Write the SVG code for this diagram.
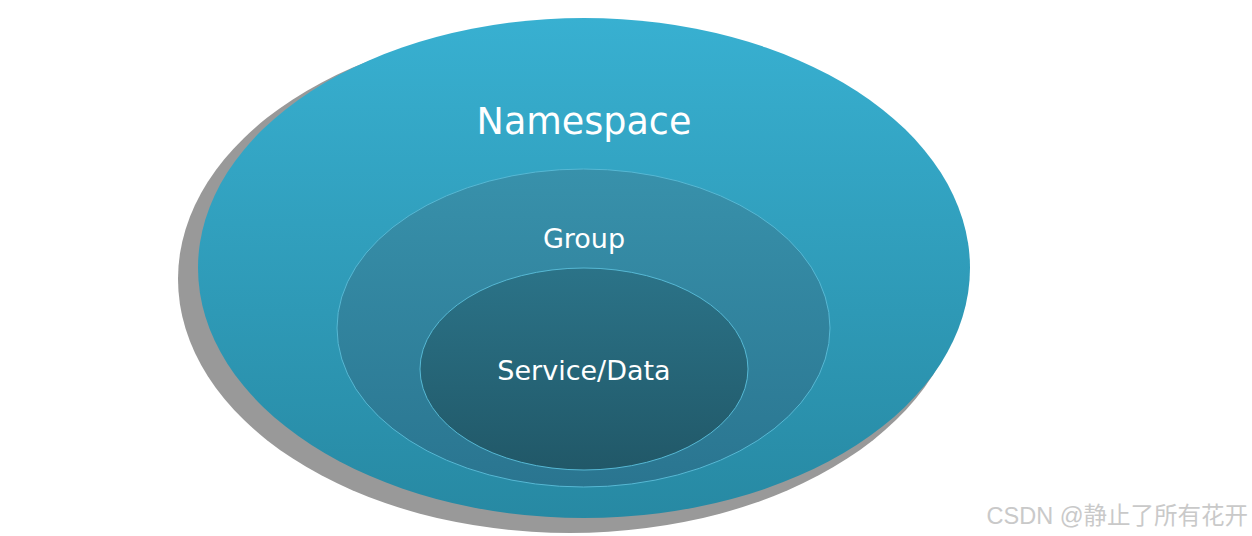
<svg xmlns="http://www.w3.org/2000/svg" width="1252" height="536" viewBox="0 0 1252 536">
  <defs>
    <linearGradient id="gOuter" x1="0" y1="0" x2="0" y2="1">
      <stop offset="0" stop-color="#38B0D1"/>
      <stop offset="1" stop-color="#2789A3"/>
    </linearGradient>
    <linearGradient id="gGroup" x1="0" y1="0" x2="0" y2="1">
      <stop offset="0" stop-color="#3891AB"/>
      <stop offset="1" stop-color="#2A7590"/>
    </linearGradient>
    <linearGradient id="gInner" x1="0" y1="0" x2="0" y2="1">
      <stop offset="0" stop-color="#2B7388"/>
      <stop offset="1" stop-color="#215868"/>
    </linearGradient>
  </defs>
  <style>
    .lbl { fill: #ffffff; font-family: "DejaVu Sans", Verdana, sans-serif; text-anchor: middle; }
    .ring { stroke: #56B8D4; stroke-width: 1; }
  </style>
  <rect width="1252" height="536" fill="#ffffff"/>
  <g id="namespace">
    <ellipse cx="570" cy="279" rx="392" ry="254" fill="#999999"/>
    <ellipse cx="584" cy="268" rx="386" ry="250" fill="url(#gOuter)"/>
    <text class="lbl" x="584" y="134" font-size="36.5">Namespace</text>
  </g>
  <g id="group">
    <ellipse class="ring" cx="583.5" cy="328" rx="246.5" ry="159" fill="url(#gGroup)"/>
    <text class="lbl" x="584" y="248" font-size="27">Group</text>
  </g>
  <g id="service">
    <ellipse class="ring" cx="584" cy="369" rx="164" ry="101" fill="url(#gInner)"/>
    <text class="lbl" x="584" y="380" font-size="27">Service/Data</text>
  </g>
  <g id="connectors"/>
  <text x="1248" y="524" font-size="23.5" fill="#C9C9C9" text-anchor="end" font-family="'Liberation Sans', 'Noto Sans CJK SC', sans-serif">CSDN @静止了所有花开</text>
</svg>
